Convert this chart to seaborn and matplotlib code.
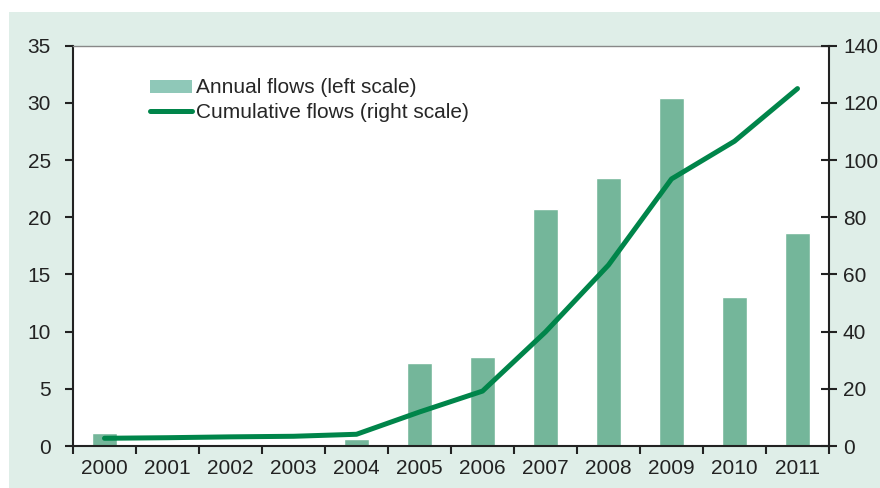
import numpy as np
import pandas as pd
import matplotlib
matplotlib.use("Agg")
import matplotlib.pyplot as plt
from matplotlib.patches import Rectangle, Patch
from matplotlib.lines import Line2D
import seaborn as sns

# Data
years = ["2000", "2001", "2002", "2003", "2004", "2005",
         "2006", "2007", "2008", "2009", "2010", "2011"]
annual = [1.1, 0.15, 0.2, 0.2, 0.6, 7.3, 7.8, 20.7, 23.4, 30.4, 13.0, 18.6]
cumulative = [2.7, 2.9, 3.2, 3.4, 4.1, 11.9, 19.2, 39.9, 63.3, 93.4, 106.6, 125.0]

bar_color = "#74b69a"
line_color = "#00854a"
bg_color = "#dfeee8"

sns.set_style("white")
plt.rcParams['font.family'] = ['Liberation Sans', 'DejaVu Sans']
plt.rcParams['font.size'] = 15

df = pd.DataFrame({"year": years, "annual": annual, "cumulative": cumulative})

fig = plt.figure(figsize=(8.8, 4.88), dpi=100)
fig.patches.append(Rectangle((9 / 880, 0.0), 1.0, 1 - 12 / 488, transform=fig.transFigure,
                             facecolor=bg_color, edgecolor="none", zorder=-10))
ax = fig.add_axes([73 / 880, 42 / 488, (829 - 73) / 880, (446 - 45.7) / 488])
ax.set_facecolor("white")

sns.barplot(data=df, x="year", y="annual", color=bar_color, width=0.41,
            saturation=1, ax=ax, zorder=2)
ax.set_ylim(0, 35)
ax.set_yticks(range(0, 36, 5))
ax.set_xlim(-0.5, len(years) - 0.5)
ax.set_xlabel("")
ax.set_ylabel("")

# category ticks at boundaries, labels centred
ax.set_xticks(np.arange(len(years)))
ax.set_xticklabels(years)
ax.set_xticks(np.arange(len(years) + 1) - 0.5, minor=True)
ax.tick_params(axis="x", which="major", length=0, pad=9, colors="#222222")
ax.tick_params(axis="x", which="minor", length=6, width=1.5, color="#222222", bottom=True)
ax.tick_params(axis="y", length=6, width=1.5, color="#222222", left=True, labelcolor="#222222", pad=10)

for s in ["left", "bottom"]:
    ax.spines[s].set_color("#222222")
    ax.spines[s].set_linewidth(1.5)
ax.spines["top"].set_color("#888888")
ax.spines["top"].set_linewidth(1.0)
ax.spines["right"].set_visible(False)

ax2 = ax.twinx()
sns.lineplot(x=np.arange(len(years)), y=cumulative, color=line_color, linewidth=3.6,
             ax=ax2, solid_capstyle="round", zorder=3)
ax2.set_ylim(0, 140)
ax2.set_yticks(range(0, 141, 20))
ax2.tick_params(axis="y", direction="inout", length=12, width=1.5, color="#222222",
                right=True, labelcolor="#222222", pad=4)
for s in ["left", "top", "bottom"]:
    ax2.spines[s].set_visible(False)
ax2.spines["right"].set_color("#222222")
ax2.spines["right"].set_linewidth(1.5)
ax2.set_ylabel("")

handles = [Patch(facecolor="#8fc8b8", edgecolor="none"),
           Line2D([0], [0], color=line_color, linewidth=3.6, solid_capstyle="round")]
ax2.legend(handles, ["Annual flows (left scale)", "Cumulative flows (right scale)"],
           loc="upper left", bbox_to_anchor=(0.077, 0.965), frameon=False,
           handlelength=2.0, handleheight=0.6, handletextpad=0.2,
           labelspacing=0.25, fontsize=15)

fig.savefig("out.png", dpi=100)
